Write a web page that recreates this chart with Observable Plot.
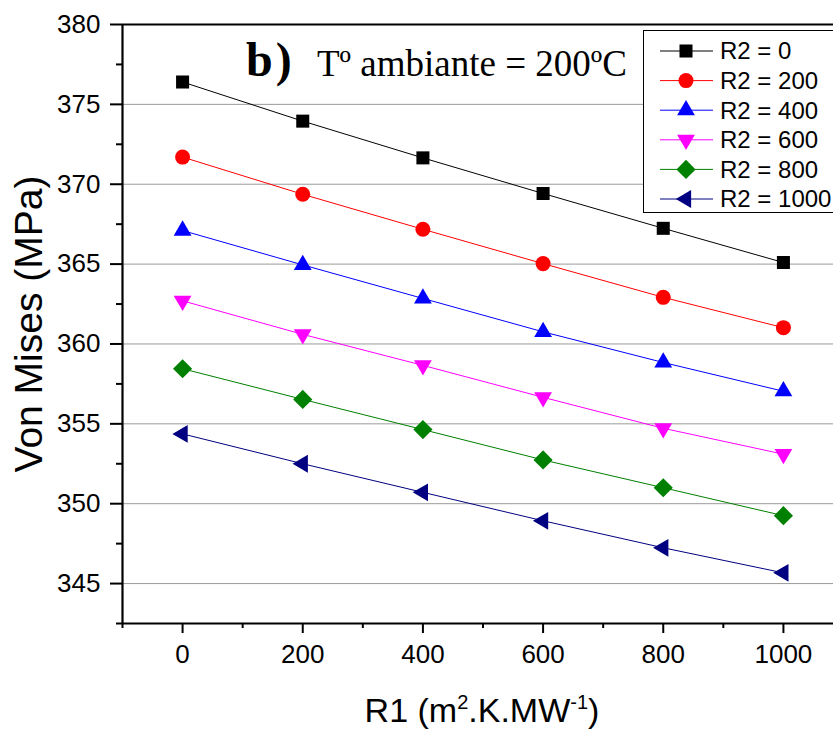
<!DOCTYPE html>
<html><head><meta charset="utf-8">
<script src="https://cdn.jsdelivr.net/npm/d3@7"></script>
<script src="https://cdn.jsdelivr.net/npm/@observablehq/plot@0.6"></script>
<style>
body{margin:0;background:#fff;}
#wrap{position:relative;width:833px;height:729px;overflow:hidden;background:#fff;font-family:Arial,"Liberation Sans",sans-serif;}
#wrap svg.ov{position:absolute;left:0;top:0;pointer-events:none;}
svg.mainchart text{font-size:26px !important;font-family:Arial,"Liberation Sans",sans-serif;}
</style></head><body><div id="wrap"></div>
<script>
// ---- data ----
const r1 = [0, 200, 400, 600, 800, 1000];
const seriesNames = ["R2 = 0", "R2 = 200", "R2 = 400", "R2 = 600", "R2 = 800", "R2 = 1000"];
const r2_0    = [376.4, 373.95, 371.65, 369.42, 367.24, 365.1];
const r2_200  = [371.7, 369.37, 367.18, 365.03, 362.92, 361.02];
const r2_400  = [367.1, 364.95, 362.85, 360.76, 358.84, 357.04];
const r2_600  = [362.7, 360.6, 358.66, 356.66, 354.72, 353.1];
const r2_800  = [358.45, 356.53, 354.64, 352.74, 351.0, 349.25];
const r2_1000 = [354.37, 352.5, 350.71, 348.93, 347.24, 345.67];
const seriesValues = [r2_0, r2_200, r2_400, r2_600, r2_800, r2_1000];
const colors = ["#000000", "#ff0000", "#0000ff", "#ff00ff", "#008000", "#000080"];
const xTicks = [0, 200, 400, 600, 800, 1000];
const xMinor = [-100, 100, 300, 500, 700, 900, 1100];
const yTicks = [345, 350, 355, 360, 365, 370, 375, 380];
const yGrid = [345, 350, 355, 360, 365, 370, 375];
const yMinor = [342.5, 347.5, 352.5, 357.5, 362.5, 367.5, 372.5, 377.5];
const xDomain = [-100, 1100];
const yDomain = [342.5, 380];
const titleBold = "b)";
const titleRest = "Tº ambiante = 200ºC";
const yLabel = "Von Mises (MPa)";

// ---- symbols (centroid-centered) ----
function poly(ctx, pts){ ctx.moveTo(pts[0][0], pts[0][1]); for (let i=1;i<pts.length;i++) ctx.lineTo(pts[i][0], pts[i][1]); ctx.closePath(); }
const symSquare = {draw(ctx, size){ const s = Math.sqrt(size)*0.49; poly(ctx, [[-s,-s],[s,-s],[s,s],[-s,s]]); }};
const symCircle = {draw(ctx, size){ const r = Math.sqrt(size)*0.565; ctx.moveTo(r,0); ctx.arc(0,0,r,0,2*Math.PI); }};
const symUp = {draw(ctx, size){ const s = Math.sqrt(size); const w = 0.67*s, h = 1.15*s; poly(ctx, [[0,-2*h/3],[w,h/3],[-w,h/3]]); }};
const symDown = {draw(ctx, size){ const s = Math.sqrt(size); const w = 0.67*s, h = 1.15*s; poly(ctx, [[0,2*h/3],[w,-h/3],[-w,-h/3]]); }};
const symDiamond = {draw(ctx, size){ const d = Math.sqrt(size)*0.72; poly(ctx, [[0,-d],[d,0],[0,d],[-d,0]]); }};
const symLeft = {draw(ctx, size){ const s = Math.sqrt(size); const w = 0.67*s, h = 1.15*s; poly(ctx, [[-2*h/3,0],[h/3,-w],[h/3,w]]); }};
const symbols = [symSquare, symCircle, symUp, symDown, symDiamond, symLeft];

const rows = [];
seriesValues.forEach((vals, i) => vals.forEach((v, j) => rows.push({r1: r1[j], v, s: seriesNames[i]})));

const marks = [
  Plot.gridY(yGrid, {stroke: "#9a9a9a", strokeOpacity: 1, strokeWidth: 1}),
  Plot.axisY(yTicks, {tickSize: 12, tickPadding: 10, strokeWidth: 2, label: null, fontSize: 26, tickFormat: d => String(d)}),
  Plot.axisY(yMinor, {tickSize: 6, strokeWidth: 2, text: null, label: null}),
  Plot.axisX(xTicks, {tickSize: 10, tickPadding: 11, strokeWidth: 2, label: null, fontSize: 26, tickFormat: d => String(d)}),
  Plot.axisX(xMinor, {tickSize: 5, strokeWidth: 2, text: null, label: null})
];
seriesNames.forEach((name, i) => {
  const data = rows.filter(d => d.s === name);
  marks.push(Plot.line(data, {x: "r1", y: "v", stroke: colors[i], strokeWidth: 1}));
});
seriesNames.forEach((name, i) => {
  const data = rows.filter(d => d.s === name);
  marks.push(Plot.dot(data, {x: "r1", y: "v", symbol: symbols[i], r: 7.5, fill: colors[i], stroke: "none"}));
});
marks.push(Plot.ruleX([xDomain[0]], {stroke: "#000", strokeWidth: 2.2}));
marks.push(Plot.ruleY([yDomain[0]], {stroke: "#000", strokeWidth: 2.2}));
marks.push(Plot.ruleY([yDomain[1]], {stroke: "#000", strokeWidth: 2.2}));

const chart = Plot.plot({
  width: 843, height: 729,
  marginLeft: 122, marginRight: 0, marginTop: 24, marginBottom: 106,
  x: {domain: xDomain},
  y: {domain: yDomain},
  style: {fontFamily: "Arial, 'Liberation Sans', sans-serif", fontSize: "26px", color: "#000", background: "#fff", overflow: "visible", maxWidth: "none"},
  marks
});
chart.style.maxWidth = "none";
chart.classList.add("mainchart");
const wrap = document.getElementById("wrap");
wrap.appendChild(chart);

// ---- overlay: title, axis labels, legend ----
const ov = d3.select(wrap).append("svg").attr("class", "ov").attr("width", 833).attr("height", 729)
  .style("font-family", "Arial, 'Liberation Sans', sans-serif");

const t = ov.append("text").attr("y", 76).style("font-family", "'Liberation Serif','Times New Roman',serif");
t.append("tspan").attr("x", 246).attr("font-weight", "bold").attr("font-size", 48).attr("letter-spacing", 3).text(titleBold);
t.append("tspan").attr("x", 317).attr("font-size", 37).text(titleRest);

const xl = ov.append("text").attr("x", 482).attr("y", 722).attr("text-anchor", "middle").attr("font-size", 34);
xl.append("tspan").text("R1 (m");
xl.append("tspan").attr("font-size", 20).attr("dy", -13).text("2");
xl.append("tspan").attr("dy", 13).text(".K.MW");
xl.append("tspan").attr("font-size", 20).attr("dy", -13).text("-1");
xl.append("tspan").attr("dy", 13).text(")");

ov.append("text").attr("transform", "translate(42,324) rotate(-90)").attr("text-anchor", "middle")
  .attr("font-size", 39).text(yLabel);

const lg = ov.append("g").attr("transform", "translate(643,30)");
lg.append("rect").attr("x", 0.5).attr("y", 0.5).attr("width", 260).attr("height", 182)
  .attr("fill", "#fff").attr("stroke", "#000").attr("stroke-width", 1);
const lgSize = Math.PI * 7.5 * 7.5;
seriesNames.forEach((name, i) => {
  const cy = 21 + i * 29.6;
  const row = lg.append("g").attr("transform", `translate(0,${cy})`);
  row.append("line").attr("x1", 17).attr("x2", 70).attr("y1", 0).attr("y2", 0).attr("stroke", colors[i]).attr("stroke-width", 1);
  row.append("path").attr("transform", "translate(43,0)").attr("d", d3.symbol(symbols[i], lgSize)()).attr("fill", colors[i]);
  row.append("text").attr("x", 77).attr("y", 0).attr("dy", "0.35em").attr("font-size", 24).text(name);
});
</script>
</body></html>
